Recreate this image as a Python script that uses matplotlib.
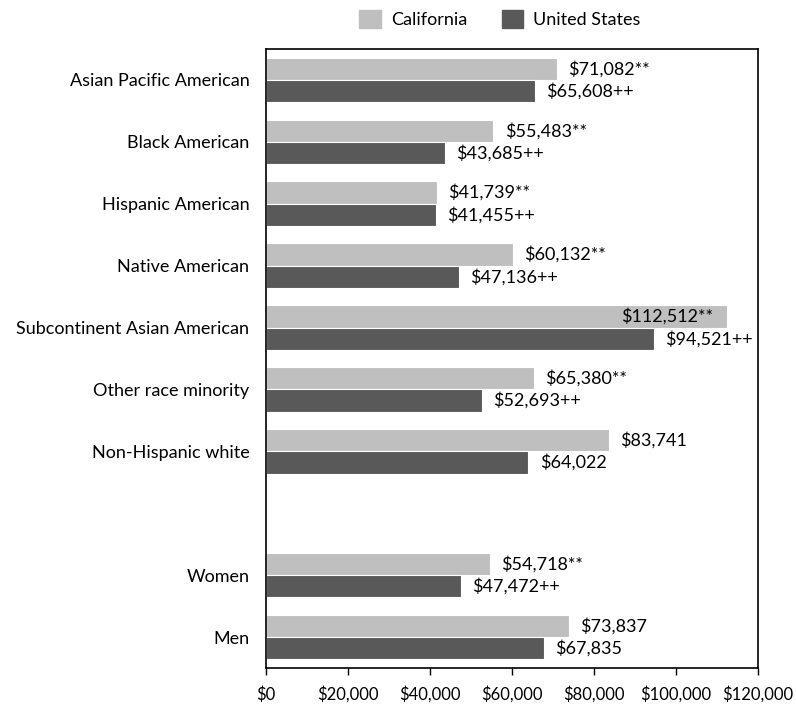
import numpy as np
import matplotlib.pyplot as plt
from matplotlib.patches import Patch

plt.rcParams['font.family'] = ['Lato', 'DejaVu Sans']

# Data (top to bottom); empty string marks the spacer row
groups = ['Asian Pacific American', 'Black American', 'Hispanic American',
          'Native American', 'Subcontinent Asian American', 'Other race minority',
          'Non-Hispanic white', '', 'Women', 'Men']
california = [71082, 55483, 41739, 60132, 112512, 65380, 83741, None, 54718, 73837]
united_states = [65608, 43685, 41455, 47136, 94521, 52693, 64022, None, 47472, 67835]
ca_marks = ['**', '**', '**', '**', '**', '**', '', '', '**', '']
us_marks = ['++', '++', '++', '++', '++', '++', '', '', '++', '']
xticks = [0, 20000, 40000, 60000, 80000, 100000, 120000]

ca_color = '#bfbfbf'
us_color = '#595959'

fig = plt.figure(figsize=(7.96, 7.07), dpi=100)
ax = fig.add_axes([266 / 796, 1 - 668 / 707, 492 / 796, 619 / 707])

pos = np.arange(len(groups))
h = 0.36
xmax = 120000

for i, (c, u) in enumerate(zip(california, united_states)):
    if c is None:
        continue
    ax.barh(pos[i] - h / 2, c, height=h, color=ca_color, edgecolor='white', linewidth=0.8)
    ax.barh(pos[i] + h / 2, u, height=h, color=us_color, edgecolor='white', linewidth=0.8)
    for val, yy, mark in [(c, pos[i] - h / 2, ca_marks[i]), (u, pos[i] + h / 2, us_marks[i])]:
        txt = '${:,}'.format(val) + mark
        if val > 0.9 * xmax:
            # label would run past the frame, so it goes inside the bar end
            ax.annotate(txt, (val, yy), xytext=(-10, 0), textcoords='offset points',
                        ha='right', va='center', fontsize=13)
        else:
            ax.annotate(txt, (val, yy), xytext=(8, 0), textcoords='offset points',
                        ha='left', va='center', fontsize=13)

ax.set_xlim(0, xmax)
ax.set_ylim(len(groups) - 0.5, -0.5)
ax.set_yticks(pos)
ax.set_yticklabels(groups, fontsize=13)
ax.tick_params(axis='y', length=0, pad=12)
ax.set_xticks(xticks)
ax.set_xticklabels(['${:,}'.format(t) for t in xticks], fontsize=12)
ax.tick_params(axis='x', direction='out', length=5, width=1, pad=8)
for s in ax.spines.values():
    s.set_linewidth(1.2)
    s.set_color('black')

handles = [Patch(color=ca_color, label='California'),
           Patch(color=us_color, label='United States')]
fig.legend(handles=handles, loc='center', bbox_to_anchor=(500 / 796, 1 - 19 / 707),
           ncol=2, frameon=False, fontsize=13, handlelength=1.2, handleheight=1.2,
           columnspacing=1.9, handletextpad=0.55)

fig.savefig('out.png', dpi=100)
